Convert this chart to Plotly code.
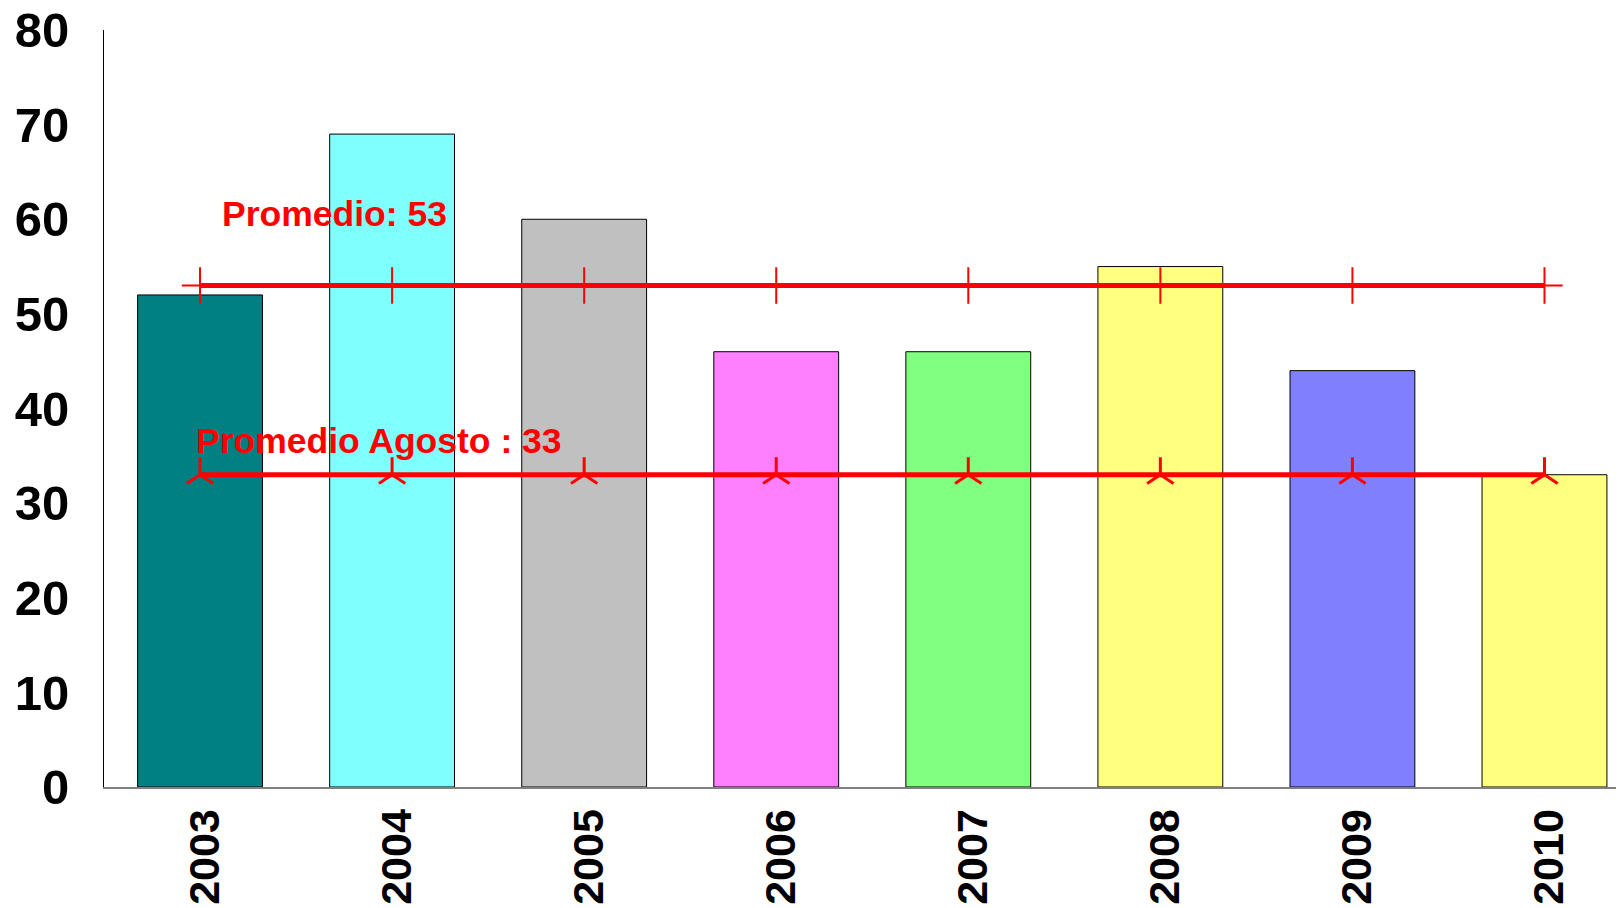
import plotly.graph_objects as go

years = ["2003", "2004", "2005", "2006", "2007", "2008", "2009", "2010"]
values = [52, 69, 60, 46, 46, 55, 44, 33]
bar_colors = ["#008080", "#80FFFF", "#C0C0C0", "#FF80FF", "#80FF80", "#FFFF80", "#8080FF", "#FFFF80"]
promedio = [53] * 8
promedio_agosto = [33] * 8
y_ticks = [0, 10, 20, 30, 40, 50, 60, 70, 80]

fig = go.Figure()
fig.add_trace(go.Bar(
    x=list(range(len(years))), y=values, width=0.65,
    marker=dict(color=bar_colors, line=dict(color="black", width=1)),
    showlegend=False,
))
fig.add_trace(go.Scatter(
    x=list(range(len(years))), y=promedio, mode="lines+markers",
    line=dict(color="#FF0000", width=5),
    marker=dict(symbol="cross-thin-open", size=26, line=dict(color="#FF0000", width=2)),
    showlegend=False,
))
fig.add_trace(go.Scatter(
    x=list(range(len(years))), y=promedio_agosto, mode="lines+markers",
    line=dict(color="#FF0000", width=5),
    marker=dict(symbol="y-up-open", size=22, line=dict(color="#FF0000", width=3)),
    showlegend=False,
))

fig.add_annotation(x=0.104, y=60.6, text="Promedio: 53", showarrow=False,
                   xanchor="left", yanchor="middle",
                   font=dict(family="Liberation Sans", size=35.5, color="#FF0000", weight="bold"))
fig.add_annotation(x=-0.034, y=36.6, text="Promedio Agosto : 33", showarrow=False,
                   xanchor="left", yanchor="middle",
                   font=dict(family="Liberation Sans", size=35.5, color="#FF0000", weight="bold"))

fig.update_layout(
    width=1616, height=900,
    margin=dict(l=96, r=0, t=22, b=121),
    paper_bgcolor="white", plot_bgcolor="white",
    bargap=0.35,
    xaxis=dict(
        range=[-0.5, 7.414], automargin=False,
        tickmode="array", tickvals=list(range(len(years))), ticktext=years,
        tickangle=-90, showgrid=False, zeroline=False,
        showline=True, linecolor="#808080", linewidth=2, ticks="",
        ticklabelstandoff=3, ticklabelshift=5, ticklabeloverflow="allow",
        tickfont=dict(family="Liberation Sans", size=43, color="black", weight="bold"),
    ),
    yaxis=dict(
        range=[0, 80], automargin=False, tickmode="array", tickvals=y_ticks,
        showgrid=False, zeroline=False,
        showline=True, linecolor="black", linewidth=1, ticks="",
        ticklabelstandoff=24, ticklabeloverflow="allow",
        tickfont=dict(family="Liberation Sans", size=49, color="black", weight="bold"),
    ),
)

fig.write_html("out.html")
